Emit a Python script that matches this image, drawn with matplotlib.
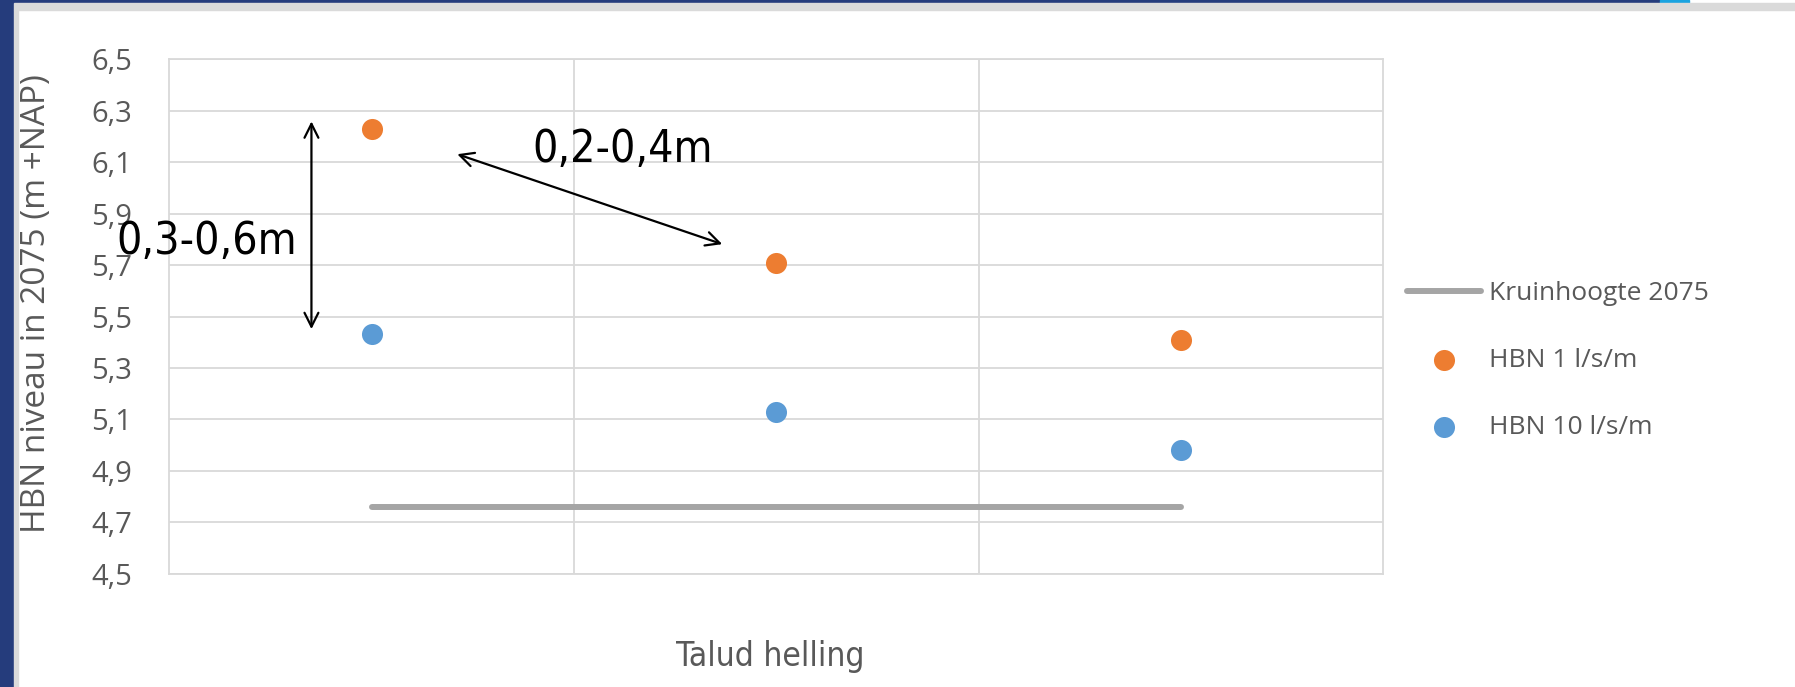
import matplotlib.pyplot as plt
from matplotlib.patches import Rectangle

# data
x_pos = [1, 2, 3]
hbn_1 = [6.23, 5.71, 5.41]
hbn_10 = [5.43, 5.13, 4.98]
kruin = [4.76, 4.76, 4.76]
y_ticks = [4.5, 4.7, 4.9, 5.1, 5.3, 5.5, 5.7, 5.9, 6.1, 6.3, 6.5]
y_labels = ["4,5", "4,7", "4,9", "5,1", "5,3", "5,5", "5,7", "5,9", "6,1", "6,3", "6,5"]

plt.rcParams['font.family'] = ['Open Sans', 'DejaVu Sans']
txt = "#595959"
grid = "#D9D9D9"
narrow = dict(family='DejaVu Sans', stretch='condensed')

fig = plt.figure(figsize=(17.95, 6.87), dpi=100)

# slide frame
fig.patches.append(Rectangle((0, 0), 0.008, 1, transform=fig.transFigure, color="#253C7C", zorder=0))
fig.patches.append(Rectangle((0, 0.995), 0.925, 0.005, transform=fig.transFigure, color="#253C7C", zorder=0))
fig.patches.append(Rectangle((0.925, 0.995), 0.016, 0.005, transform=fig.transFigure, color="#1AA3E0", zorder=0))
fig.patches.append(Rectangle((0.008, 0.986), 0.992, 0.009, transform=fig.transFigure, color="#DADADA", zorder=0))
fig.patches.append(Rectangle((0.008, 0), 0.002, 0.986, transform=fig.transFigure, color="#DADADA", zorder=0))

ax = fig.add_axes([0.0944, 0.1652, 0.6761, 0.7482])
ax.plot(x_pos, kruin, color="#A5A5A5", lw=4.3, solid_capstyle="round", label="Kruinhoogte 2075", zorder=3)
ax.scatter(x_pos, hbn_1, s=230, color="#ED7D31", label="HBN 1 l/s/m", zorder=4, linewidths=0)
ax.scatter(x_pos, hbn_10, s=230, color="#5B9BD5", label="HBN 10 l/s/m", zorder=4, linewidths=0)

ax.set_xlim(0.5, 3.5)
ax.set_ylim(4.5, 6.5)
ax.set_yticks(y_ticks)
ax.set_yticklabels(y_labels)
ax.set_xticks([1.5, 2.5])
ax.set_xticklabels([])
ax.tick_params(axis="both", length=0, labelsize=21, colors=txt, pad=27)
ax.grid(True, color=grid, lw=1.3)
ax.set_axisbelow(True)
for s in ax.spines.values():
    s.set_color(grid)
    s.set_linewidth(1.3)

ax.set_ylabel("HBN niveau in 2075 (m +NAP)", fontsize=24, color=txt)
ax.yaxis.set_label_coords(-0.096, 0.526)
ax.set_xlabel("Talud helling", fontsize=24, color=txt, **narrow)
ax.xaxis.set_label_coords(0.495, -0.13)

# annotations
ax.annotate("", xy=(0.851, 6.27), xytext=(0.851, 5.44),
            arrowprops=dict(arrowstyle="<->", color="black", lw=1.6, mutation_scale=25))
ax.text(0.593, 5.79, "0,3-0,6m", fontsize=32, ha="center", va="center", **narrow)
ax.annotate("", xy=(1.205, 6.135), xytext=(1.873, 5.778),
            arrowprops=dict(arrowstyle="<->", color="black", lw=1.6, mutation_scale=25))
ax.text(1.62, 6.15, "0,2-0,4m", fontsize=32, ha="center", va="center", **narrow)

leg = ax.legend(loc="center left", bbox_to_anchor=(0.7705, 0.475), bbox_transform=fig.transFigure,
                frameon=False, fontsize=19, labelspacing=1.6, handlelength=2.8, handletextpad=0.3)
for t in leg.get_texts():
    t.set_color(txt)

fig.savefig("out.png", dpi=100)
